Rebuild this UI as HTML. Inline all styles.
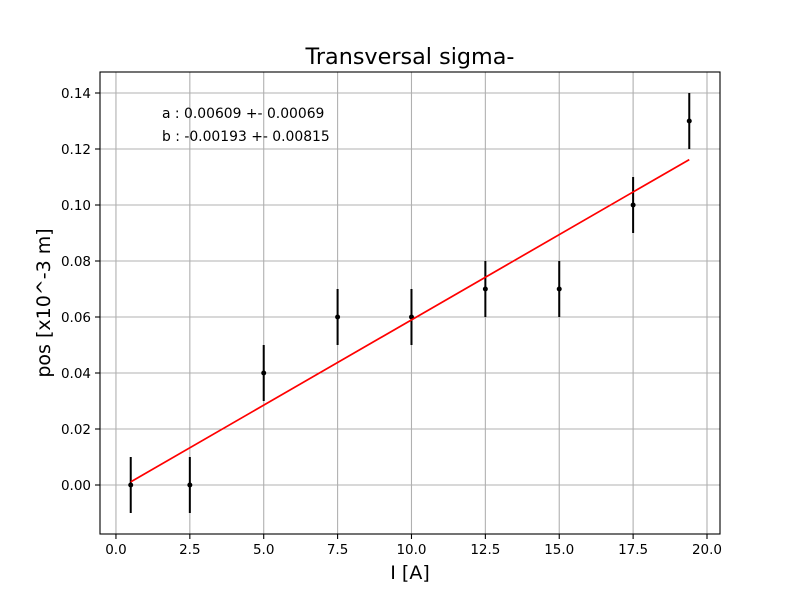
<!DOCTYPE html>
<html><head><meta charset="utf-8"><style>body{margin:0;background:#fff}svg{display:block;font-family:"DejaVu Sans","Liberation Sans",sans-serif}</style></head>
<body>
<svg id="chart" width="800" height="600"></svg>
<script>
const xVals=[0.5,2.5,5,7.5,10,12.5,15,17.5,19.4];
const yVals=[0,0,0.04,0.06,0.06,0.07,0.07,0.10,0.13];
const yErr=[0.01,0.01,0.01,0.01,0.01,0.01,0.01,0.01,0.01];
const fitA=0.00609, fitB=-0.00193;
const xTicks=[0,2.5,5,7.5,10,12.5,15,17.5,20];
const xTickLabels=["0.0","2.5","5.0","7.5","10.0","12.5","15.0","17.5","20.0"];
const yTicks=[0,0.02,0.04,0.06,0.08,0.10,0.12,0.14];
const yTickLabels=["0.00","0.02","0.04","0.06","0.08","0.10","0.12","0.14"];
const L=100,R=720,T=72,B=534;
const xMin=-0.54,xMax=20.44,yMin=-0.0175,yMax=0.1475;
const X=v=>L+(v-xMin)/(xMax-xMin)*(R-L);
const Y=v=>B-(v-yMin)/(yMax-yMin)*(B-T);
const svg=document.getElementById('chart');
const NS='http://www.w3.org/2000/svg';
function mk(tag,attrs,parent){const e=document.createElementNS(NS,tag);for(const k in attrs)e.setAttribute(k,attrs[k]);(parent||svg).appendChild(e);return e;}
xTicks.forEach((t,i)=>{
 const g=mk('line',{x1:X(t),x2:X(t),y1:T,y2:B,stroke:'#b0b0b0','stroke-width':1.1});
 
 mk('line',{x1:X(t),x2:X(t),y1:B,y2:B+5,stroke:'#000','stroke-width':1.1});
 const tx=mk('text',{x:X(t),y:B+20,'font-size':13.5,'text-anchor':'middle'});tx.textContent=xTickLabels[i];
 
});
yTicks.forEach((t,i)=>{
 const g=mk('line',{x1:L,x2:R,y1:Y(t),y2:Y(t),stroke:'#b0b0b0','stroke-width':1.1});
 
 mk('line',{x1:L-5,x2:L,y1:Y(t),y2:Y(t),stroke:'#000','stroke-width':1.1});
 const tx=mk('text',{x:L-9,y:Y(t)+5,'font-size':13.5,'text-anchor':'end'});tx.textContent=yTickLabels[i];
 
});
xVals.forEach((x,i)=>{
 const e=mk('line',{x1:X(x),x2:X(x),y1:Y(yVals[i]-yErr[i]),y2:Y(yVals[i]+yErr[i]),stroke:'#000','stroke-width':2});
 
 const p=mk('circle',{cx:X(x),cy:Y(yVals[i]),r:2.5,fill:'#000'});
 
});
const x0=xVals[0],x1=xVals[xVals.length-1];
const fl=mk('line',{x1:X(x0),y1:Y(fitA*x0+fitB),x2:X(x1),y2:Y(fitA*x1+fitB),stroke:'#ff0000','stroke-width':1.7});

const fr=mk('rect',{x:L,y:T,width:R-L,height:B-T,fill:'none',stroke:'#000','stroke-width':1.1});

</script>
<svg width="800" height="600" style="position:absolute;left:0;top:0">
<text x="410" y="64" font-size="22.3" text-anchor="middle" font-family="DejaVu Sans, Liberation Sans, sans-serif">Transversal sigma-</text>
<text x="410" y="579" font-size="19" text-anchor="middle" font-family="DejaVu Sans, Liberation Sans, sans-serif">I [A]</text>
<text transform="translate(50,303) rotate(-90)" font-size="19" text-anchor="middle" font-family="DejaVu Sans, Liberation Sans, sans-serif">pos [x10^-3 m]</text>
<text x="162" y="118" font-size="13.9" font-family="DejaVu Sans, Liberation Sans, sans-serif">a : 0.00609 +- 0.00069</text>
<text x="162" y="141" font-size="13.9" font-family="DejaVu Sans, Liberation Sans, sans-serif">b : -0.00193 +- 0.00815</text>
</svg>
</body></html>
